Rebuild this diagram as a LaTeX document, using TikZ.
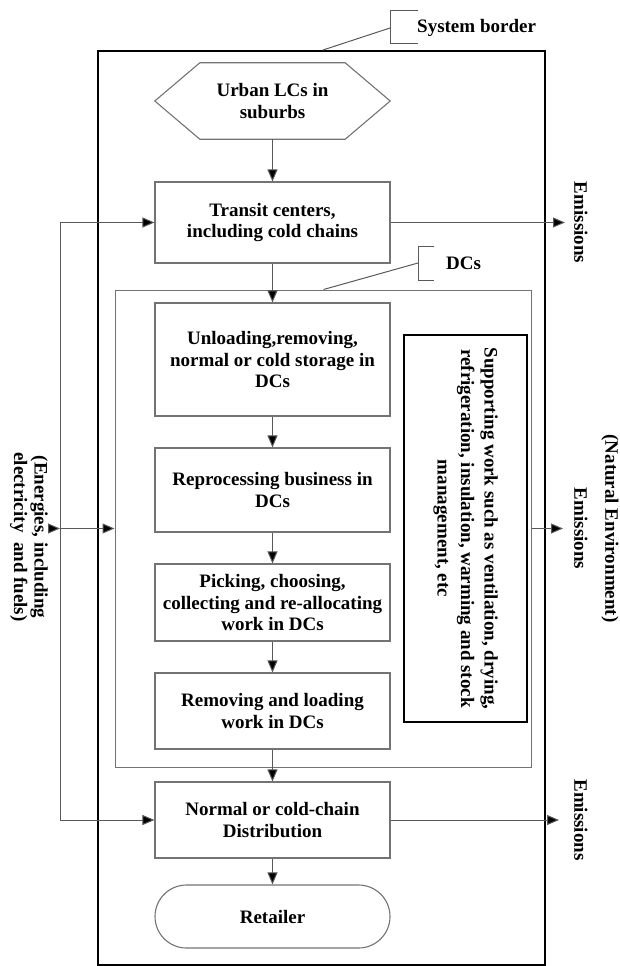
\documentclass[tikz,border=0pt]{standalone}
\usepackage{fontspec}
\setmainfont{Liberation Serif}
\usetikzlibrary{arrows.meta,calc}
\definecolor{boxgray}{gray}{0.45}
\definecolor{linegray}{gray}{0.35}
\tikzset{
	txt/.style={font=\bfseries\fontsize{19}{21.5}\selectfont, align=center, inner sep=0pt},
	box/.style={txt, draw=boxgray, line width=1.1pt, minimum width=235pt},
	flow/.style={draw=linegray, line width=1pt, -{Triangle[length=12pt,width=10pt,fill=black]}},
	thinline/.style={draw=linegray, line width=1pt},
}
\begin{document}
\begin{tikzpicture}[x=1pt,y=-1pt]
		\useasboundingbox (0,0) rectangle (620,966);
		%=========== borders ===========================
		\node[draw, line width=2pt, minimum width=447pt, minimum height=914pt] (sys) at (321.5,508) {};
		\node[draw=boxgray, line width=1pt, minimum width=416pt, minimum height=477pt] (dcs) at (323,528.5) {};
		\draw[thinline] (418,11) -- (390,11) -- (390,44) -- (418,44);
		\coordinate (sysbr) at (390,28);
		\node[txt, anchor=west] (syslbl) at (417,28) {System border};
		\draw[thinline] ($(sys.north west)+(226,0)$) -- (sysbr);
		\draw[thinline] (434,246) -- (418,246) -- (418,280) -- (434,280);
		\coordinate (dcsbr) at (418,263);
		\node[txt, anchor=west] (dcslbl) at (446,263) {DCs};
		\draw[thinline] ($(dcs.north west)+(209,0)$) -- (dcsbr);
		%=========== chain, from top to bottom ===========================
		\node[txt, minimum width=145pt, minimum height=76pt] (urban) at (272.5,101) {Urban LCs in\\suburbs};
		\draw[draw=boxgray, line width=1.1pt] (urban.north west) -- (urban.north east) -- ($(urban.east)+(45,0)$)
			-- (urban.south east) -- (urban.south west) -- ($(urban.west)+(-45,0)$) -- cycle;
		\node[box, minimum height=81pt] (transit) at (272.5,222.5) {Transit centers,\\including cold chains};
		\node[box, minimum height=113pt] (unload) at (272.5,359.5) {Unloading,removing,\\normal or cold storage in\\DCs};
		\node[box, minimum height=84pt] (reproc) at (272.5,490) {Reprocessing business in\\DCs};
		\node[box, minimum height=77pt] (pick) at (272.5,602.5) {Picking, choosing,\\collecting and re-allocating\\work in DCs};
		\node[box, minimum height=76pt] (remove) at (272.5,711) {Removing and loading\\work in DCs};
		\node[box, minimum height=76pt] (distrib) at (272.5,820) {Normal or cold-chain\\Distribution};
		\node[box, minimum height=63pt, rounded corners=31.5pt] (retail) at (272.5,916.5) {Retailer};
		\draw[flow] (urban.south) -- (transit.north);
		\draw[flow] (transit.south) -- (unload.north);
		\draw[flow] (unload.south) -- (reproc.north);
		\draw[flow] (reproc.south) -- (pick.north);
		\draw[flow] (pick.south) -- (remove.north);
		\draw[flow] (remove.south) -- (distrib.north);
		\draw[flow] (distrib.south) -- (retail.north);
		%=========== supporting work ===========================
		\node[txt, draw, line width=2pt, rotate=-90, minimum width=387pt, minimum height=123pt,
			font=\bfseries\fontsize{19}{23.5}\selectfont] (support) at (465.5,528.5)
			{Supporting work such as ventilation, drying,\\refrigeration, insulation, warming and stock\\management, etc};
		%=========== energies, left ===========================
		\coordinate (etop) at (60,222.5);
		\coordinate (emid) at (60,528.5);
		\coordinate (ebot) at (60,820);
		\draw[thinline] (etop) -- (ebot);
		\draw[flow] (etop) -- (transit.west);
		\draw[flow] (emid) -- (dcs.west);
		\draw[flow] (ebot) -- (distrib.west);
		\node[txt, rotate=-90, font=\bfseries\fontsize{19}{20.5}\selectfont] (energy) at (29,537) {(Energies, including\\electricity~ and fuels)};
		\draw[flow] (energy.north |- emid) -- (emid);
		%=========== emissions, right ===========================
		\node[txt, rotate=-90, anchor=south] (emis1) at (574,222.5) {Emissions};
		\node[txt, rotate=-90, anchor=south] (emis2) at (574,528.5) {Emissions};
		\node[txt, rotate=-90, anchor=south] (natural) at (601,528.5) {(Natural Environment)};
		\node[txt, rotate=-90, anchor=south] (emis3) at (574,820) {Emissions};
		\draw[flow, shorten >=9pt] (transit.east) -- (emis1.south);
		\draw[flow, shorten >=11pt] (dcs.east) -- (emis2.south);
		\draw[flow, shorten >=15pt] (distrib.east) -- (emis3.south);
	\end{tikzpicture}
\end{document}
